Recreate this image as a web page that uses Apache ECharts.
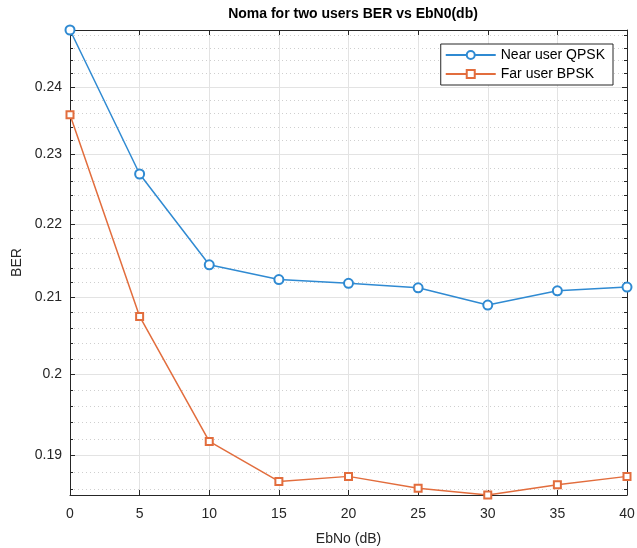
<!DOCTYPE html>
<html>
<head>
<meta charset="utf-8">
<script src="https://cdn.jsdelivr.net/npm/echarts@6/dist/echarts.min.js"></script>
<style>
html,body{margin:0;padding:0;background:#fff;}
#chart{width:637px;height:548px;}
</style>
</head>
<body>
<div id="chart"></div>
<script>
const ebno = [0, 5, 10, 15, 20, 25, 30, 35, 40];
const nearQPSK = [0.2488, 0.2271, 0.2144, 0.2124, 0.2119, 0.2113, 0.2090, 0.2109, 0.2114];
const farBPSK = [0.2358, 0.2075, 0.1917, 0.1869, 0.1875, 0.1861, 0.1853, 0.1865, 0.1875];
const yMajorTicks = [0.19, 0.20, 0.21, 0.22, 0.23, 0.24];
const yMinorTicks = [0.186, 0.188, 0.192, 0.194, 0.196, 0.198, 0.202, 0.204, 0.206, 0.208,
  0.212, 0.214, 0.216, 0.218, 0.222, 0.224, 0.226, 0.228, 0.232, 0.234, 0.236, 0.238,
  0.242, 0.244, 0.246, 0.248];
const xTicks = [0, 5, 10, 15, 20, 25, 30, 35, 40];

const allVals = nearQPSK.concat(farBPSK);
const yMin = Math.min.apply(null, allVals);
const yMax = Math.max.apply(null, allVals);

const axisColor = '#262626';
const font = 'Liberation Sans, Arial, Helvetica, sans-serif';
const blue = '#2f8ad2';
const orange = '#e26d3d';

const chart = echarts.init(document.getElementById('chart'), null, {renderer: 'canvas'});

function yAxisBase(extra) {
  return Object.assign({
    type: 'log',
    logBase: 10,
    min: yMin,
    max: yMax,
    axisLine: {show: false},
    axisLabel: {show: false},
    axisTick: {show: false},
    splitLine: {show: false}
  }, extra);
}

chart.setOption({
  animation: false,
  backgroundColor: '#ffffff',
  title: {
    text: 'Noma for two users BER vs EbN0(db)',
    left: 348,
    textAlign: 'center',
    top: 2,
    textStyle: {fontFamily: font, fontSize: 14, fontWeight: 'bold', color: '#000'}
  },
  legend: {
    right: 24,
    top: 44,
    orient: 'vertical',
    itemWidth: 50,
    itemHeight: 10,
    itemGap: 3,
    padding: [3, 8, 3, 4],
    borderColor: '#262626',
    borderWidth: 1,
    backgroundColor: '#fff',
    textStyle: {fontFamily: font, fontSize: 14, lineHeight: 16, color: '#000'},
    data: ['Near user QPSK', 'Far user BPSK']
  },
  grid: {left: 70, right: 10, top: 30, bottom: 53, containLabel: false, outerBoundsMode: 'none'},
  xAxis: [
    {
      type: 'value',
      min: 0, max: 40, interval: 5,
      position: 'bottom',
      name: 'EbNo (dB)',
      nameLocation: 'middle',
      nameGap: 37,
      nameTextStyle: {fontFamily: font, fontSize: 14, color: axisColor},
      axisLine: {show: true, lineStyle: {color: axisColor, width: 1}},
      axisTick: {show: true, inside: true, length: 5, lineStyle: {color: axisColor}},
      axisLabel: {fontFamily: font, fontSize: 14, color: axisColor, margin: 12,
        customValues: xTicks},
      splitLine: {show: true, lineStyle: {color: '#e3e3e3', width: 1}}
    },
    {
      type: 'value',
      min: 0, max: 40, interval: 5,
      position: 'top',
      axisLine: {show: true, lineStyle: {color: axisColor, width: 1}},
      axisTick: {show: true, inside: true, length: 5, lineStyle: {color: axisColor}},
      axisLabel: {show: false},
      splitLine: {show: false}
    }
  ],
  yAxis: [
    yAxisBase({
      position: 'left',
      name: 'BER',
      nameLocation: 'middle',
      nameGap: 46,
      nameTextStyle: {fontFamily: font, fontSize: 14, color: axisColor},
      axisLine: {show: true, lineStyle: {color: axisColor, width: 1}},
      axisTick: {show: true, inside: true, length: 5, lineStyle: {color: axisColor}, customValues: yMajorTicks},
      axisLabel: {show: true, fontFamily: font, fontSize: 14, color: axisColor, margin: 8,
        customValues: yMajorTicks, formatter: v => String(+v.toFixed(2))},
      splitLine: {show: true, lineStyle: {color: '#e3e3e3', width: 1}}
    }),
    yAxisBase({
      position: 'left',
      axisTick: {show: true, inside: true, length: 3, lineStyle: {color: axisColor}, customValues: yMinorTicks},
      splitLine: {show: true, lineStyle: {color: '#cfcfcf', width: 1, type: [1, 3]}}
    }),
    yAxisBase({
      position: 'right',
      axisLine: {show: true, lineStyle: {color: axisColor, width: 1}},
      axisTick: {show: true, inside: true, length: 5, lineStyle: {color: axisColor}, customValues: yMajorTicks}
    }),
    yAxisBase({
      position: 'right',
      axisTick: {show: true, inside: true, length: 3, lineStyle: {color: axisColor}, customValues: yMinorTicks}
    })
  ],
  series: [
    {
      name: 'Near user QPSK',
      type: 'line',
      xAxisIndex: 0,
      yAxisIndex: 0,
      data: ebno.map((x, i) => [x, nearQPSK[i]]),
      symbol: 'emptyCircle',
      symbolSize: 9,
      clip: false,
      lineStyle: {color: blue, width: 1.5},
      itemStyle: {color: blue, borderColor: blue, borderWidth: 1.5},
      z: 3
    },
    {
      name: 'Far user BPSK',
      type: 'line',
      xAxisIndex: 0,
      yAxisIndex: 0,
      data: ebno.map((x, i) => [x, farBPSK[i]]),
      symbol: 'emptyRect',
      symbolSize: 7,
      clip: false,
      lineStyle: {color: orange, width: 1.5},
      itemStyle: {color: orange, borderColor: orange, borderWidth: 1.2},
      z: 3
    }
  ]
});
</script>
</body>
</html>
